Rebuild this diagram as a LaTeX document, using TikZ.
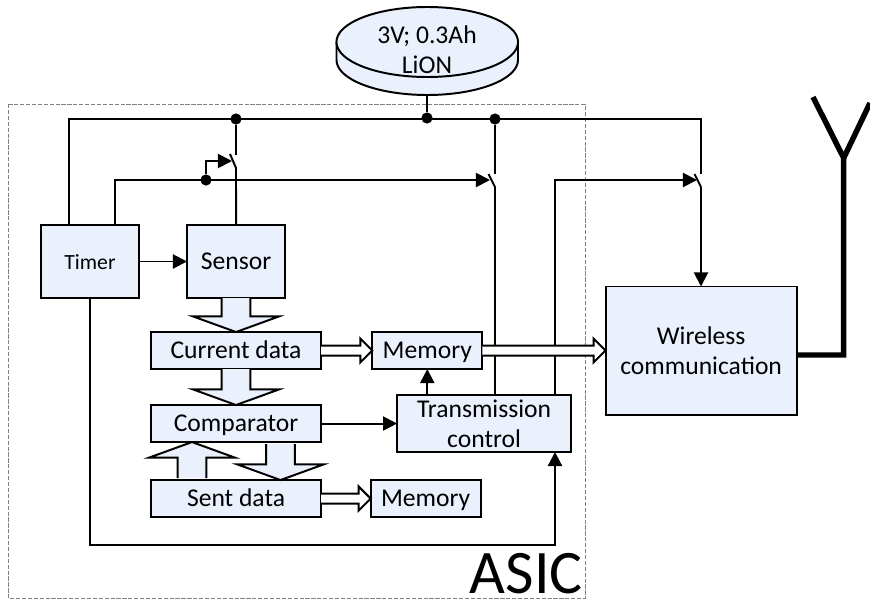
\documentclass[tikz,border=0pt]{standalone}
\usepackage{fontspec}
\setmainfont{Carlito}
\usetikzlibrary{shapes.geometric,arrows.meta,positioning,calc}
\definecolor{boxblue}{HTML}{EAF1FD}

\begin{document}
\begin{tikzpicture}[
  x=0.025cm, y=-0.025cm,
  block/.style={rectangle, draw=black, fill=boxblue, line width=1.4pt, inner sep=0pt, outer sep=0pt,
                align=center, font=\fontsize{18.2}{21.3}\selectfont},
  oneline/.style={text height=15pt, text depth=3.8pt},
  datablock/.style={block, oneline, minimum width=4.25cm, minimum height=0.925cm},
  membox/.style={block, oneline, minimum width=2.75cm, minimum height=0.925cm},
  wire/.style={line width=1.4pt},
  bus/.style={line width=1.8pt},
  arr/.style={wire, -{Triangle[length=10pt, width=10pt]}},
  dot/.style={circle, fill=black, inner sep=0pt, minimum size=0.28cm},
  hollow/.style n args={3}{draw=black, line width=1.4pt, to path={
    ($(\tikztotarget)!#3!(\tikztostart)$) coordinate (hb)
    ($(\tikztostart)!#1!90:(\tikztotarget)$) --
    ($(hb)!#1!90:(\tikztotarget)$) -- ($(hb)!#2!90:(\tikztotarget)$) --
    (\tikztotarget) --
    ($(hb)!#2!-90:(\tikztotarget)$) -- ($(hb)!#1!-90:(\tikztotarget)$) --
    ($(\tikztostart)!#1!-90:(\tikztotarget)$)}},
  fatarr/.style={hollow={0.36cm}{1.075cm}{0.39cm}, fill=boxblue},
  thinarr/.style={hollow={0.125cm}{0.3cm}{0.3cm}, fill=white},
  antenna/.style={line width=3.9pt, line join=miter}
]
\useasboundingbox (0,0) rectangle (870,599);

\draw[gray, line width=0.6pt, dash pattern=on 3pt off 1.2pt] (8.5,104) rectangle (585,598.5);

\node[block, oneline, minimum width=2.45cm, minimum height=1.825cm,
      font=\fontsize{15.4}{18}\selectfont] (timer) at (90,261.5) {Timer};
\node[block, oneline, minimum width=2.45cm, minimum height=1.825cm, right=1.2cm of timer] (sensor) {Sensor};
\node[datablock, below=0.85cm of sensor] (current) {Current data};
\node[datablock, below=0.9cm of current] (comparator) {Comparator};
\node[datablock, below=0.95cm of comparator] (sent) {Sent data};
\node[membox, right=1.28cm of current] (memtop) {Memory};
\node[membox, right=1.24cm of sent] (membot) {Memory};
\node[block, minimum width=4.35cm, minimum height=1.42cm, right=1.9cm of comparator] (txctrl)
  {Transmission\\control};
\node[block, minimum width=4.78cm, minimum height=3.2cm, right=3.08cm of memtop] (wireless)
  {Wireless\\communication};

% battery: side first, top face over it
\coordinate (battleft) at (336.5,42);
\coordinate (battright) at (518,42);
\coordinate (battbottom) at (427,95);
\draw[fill=boxblue, line width=1.4pt] (battleft) -- ++(0,18) arc (180:0:90.75 and 35) -- (battright);
\node[ellipse, draw=black, fill=boxblue, line width=1.4pt, inner sep=0pt, outer sep=0pt,
      minimum width=4.54cm, minimum height=1.75cm] (battery) at (427.25,42) {};
\node[align=center, inner sep=0pt, font=\fontsize{18.2}{21.3}\selectfont] (battlabel) at (427,50)
  {3V; 0.3Ah\\LiON};

\node[font=\fontsize{44}{44}\selectfont, anchor=base east, inner sep=0pt] (asic) at (583,593) {ASIC};

\node[dot] (dotsensor) at (236,119) {};
\node[dot] (dotbatt) at (427,118) {};
\node[dot] (dottx) at (495,119) {};
\node[dot] (dotctrl) at (206,180) {};

\coordinate (busleft) at (69,119);
\coordinate (busright) at (701,119);
\coordinate (ctrlleft) at (115,180);
\coordinate (ctrlbend) at (206,161);
\coordinate (swsensor) at (236,155);
\coordinate (swsensorb) at (236,168);
\coordinate (swsensora) at (230,154);
\coordinate (swtx) at (495,174);
\coordinate (swtxb) at (495,187);
\coordinate (swtxa) at (488.5,174);
\coordinate (swradio) at (701,174);
\coordinate (swradiob) at (701,187);
\coordinate (swradioa) at (694.5,174);
\coordinate (txout) at (555,180);
\coordinate (timerlow) at (90,545);
\coordinate (txlow) at (555,545);
\coordinate (fatup) at (192,460);
\coordinate (fatdown) at (280.5,460);
\coordinate (antbase) at (843.7,355);
\coordinate (antfork) at (843.7,158);
\coordinate (antleft) at (813,97);
\coordinate (antright) at (870,103);

% supply rail
\draw[bus] (timer.north -| busleft) -- (busleft) -- (busright) -- (swradio);
\draw[bus] (battbottom) -- (dotbatt);
\draw[bus] (dotsensor) -- (swsensor);
\draw[bus] (dottx) -- (swtx);

% switches
\draw[wire] (swsensora) -- (swsensorb) -- (sensor.north);
\draw[wire] (swtxa) -- (swtxb) -- (txctrl.north -| swtxb);
\draw[wire] (swradioa) -- (swradiob);
\draw[arr] (swradiob) -- (wireless.north -| swradiob);

% control lines
\draw[arr] (timer.north -| ctrlleft) -- (ctrlleft) -- (490,180);
\draw[arr] (dotctrl) -- (ctrlbend) -- (232,161);
\draw[arr] (txctrl.north -| txout) -- (txout) -- (697,180);
\draw[arr] (timer.south -| timerlow) -- (timerlow) -- (txlow) -- (txctrl.south -| txlow);
\draw[arr] (timer) -- (sensor);
\draw[arr] (comparator) -- (txctrl);
\draw[arr] (txctrl.north -| memtop) -- (memtop);

% data paths
\draw[fatarr] (sensor.south) to (current.north);
\draw[fatarr] (current.south) to (comparator.north);
\draw[fatarr] ($(sent.north -| fatup)+(0,-2)$) to (comparator.south -| fatup);
\draw[fatarr] ($(comparator.south -| fatdown)+(0,2)$) to (sent.north -| fatdown);
\draw[thinarr] (current.east) to (memtop.west);
\draw[thinarr] (memtop.east) to (wireless.west);
\draw[thinarr] (sent.east) to (membot.west);

\draw[antenna] (wireless.east |- antbase) -- (antbase) -- (antfork) -- (antleft);
\draw[antenna] (antfork) -- (antright);
\end{tikzpicture}
\end{document}
